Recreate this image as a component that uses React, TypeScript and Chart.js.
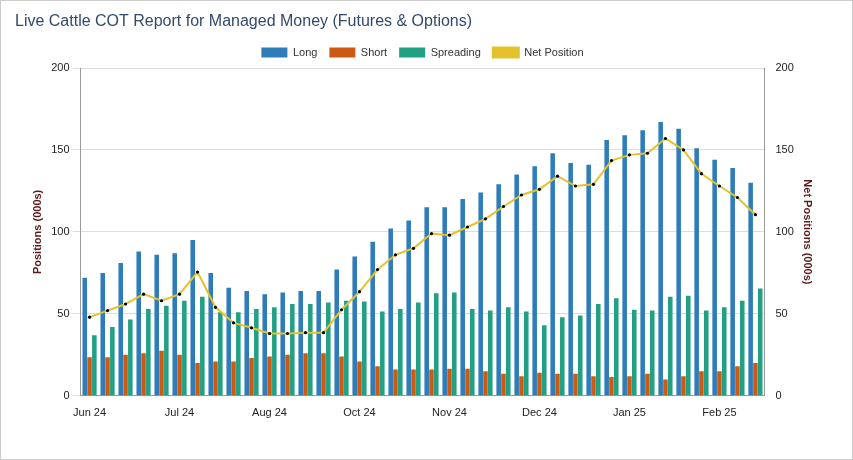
import React, { useEffect, useRef } from "react";
import { Chart, registerables } from "chart.js";
Chart.register(...registerables);

const labels = ["Jun 24","","","","","Jul 24","","","","","Aug 24","","","","","Oct 24","","","","","Nov 24","","","","","Dec 24","","","","","Jan 25","","","","","Feb 25","",""];
const longV = [72,75,81,88,86,87,95,75,66,64,62,63,64,64,77,85,94,102,107,115,115,120,124,129,135,140,148,142,141,156,159,162,167,163,151,144,139,130];
const shortV = [23.5,23.5,25,26,27.5,25,20,21,21,23,24,25,26,26,24,21,18,16,16,16,16.5,16.5,15,13.5,12,14,13.5,13.5,12,11.5,12,13.5,10,12,15,15,18,20];
const spreadV = [37,42,46.5,53,55,58,60.5,51,51,53,54,56,56,57,58,57.5,51.5,53,57,62.5,63,53,52,54,51.5,43,48,49,56,59.5,52.5,52,60.5,61,52,54,58,65.5];
const netV = [48,52,56,62,58,62,75.5,54,44.5,41.5,38,38,38.5,38.5,52.5,63.5,77,86,90,99,98,103,108,115.5,122.5,126,134,128,129,143.5,147,148,157,150,135.5,128,121,110.5];
const titleText = "Live Cattle COT Report for Managed Money (Futures & Options)";

export default function App() {
  const ref = useRef<HTMLCanvasElement>(null);
  useEffect(() => {
    document.body.style.margin = "0";
    const family = "Arial, 'Liberation Sans', sans-serif";
    const font = { family, size: 11 };
    const titlePlugin = {
      id: "lefttitle",
      afterDraw(c: any) {
        const ctx = c.ctx;
        ctx.save();
        ctx.font = `16px ${family}`;
        ctx.fillStyle = "#334a6b";
        ctx.textBaseline = "middle";
        ctx.fillText(titleText, 14, 21);
        ctx.restore();
      },
    };
    const chart = new Chart(ref.current!, {
      data: {
        labels,
        datasets: [
          { type: "line", label: "Net Position", data: netV, yAxisID: "y1", borderColor: "#e3c22d", borderWidth: 2, pointRadius: 1.6, pointBackgroundColor: "#000", pointBorderColor: "#000", pointBorderWidth: 0, tension: 0, order: 0 },
          { type: "bar", label: "Long", data: longV, backgroundColor: "#2e7db8", categoryPercentage: 0.8, barPercentage: 0.95, order: 1 },
          { type: "bar", label: "Short", data: shortV, backgroundColor: "#cc5a12", categoryPercentage: 0.8, barPercentage: 0.95, order: 1 },
          { type: "bar", label: "Spreading", data: spreadV, backgroundColor: "#22a084", categoryPercentage: 0.8, barPercentage: 0.95, order: 1 },
        ] as any,
      },
      plugins: [titlePlugin],
      options: {
        animation: false,
        responsive: false,
        layout: { padding: { left: 26, right: 34, top: 34, bottom: 36 } },
        plugins: {
          title: { display: false },
          legend: {
            labels: {
              font, color: "#333", boxWidth: 26, boxHeight: 10, padding: 12,
              generateLabels: (c: any) => {
                const items = Chart.defaults.plugins.legend.labels.generateLabels(c);
                const order = ["Long", "Short", "Spreading", "Net Position"];
                return order.map((n) => items.find((i: any) => i.text === n)!).map((i: any) => i.text === "Net Position" ? { ...i, lineWidth: 2, fillStyle: "#e3c22d" } : { ...i, lineWidth: 0 });
              },
            },
          },
          tooltip: { enabled: false },
        },
        scales: {
          x: { grid: { display: false }, border: { color: "#999" }, ticks: { font, color: "#222", autoSkip: false, maxRotation: 0 } },
          y: { position: "left", min: 0, max: 200, ticks: { stepSize: 50, font, color: "#222" }, grid: { color: "#ddd" }, border: { color: "#999" }, title: { display: true, text: "Positions (000s)", color: "#5a1a1a", font: { ...font, weight: "bold" } } },
          y1: { position: "right", min: 0, max: 200, ticks: { stepSize: 50, font, color: "#222" }, grid: { display: false }, border: { color: "#999" }, title: { display: true, text: "Net Positions (000s)", color: "#5a1a1a", font: { ...font, weight: "bold" } } },
        },
      } as any,
    });
    return () => chart.destroy();
  }, []);
  return (
    <div style={{ width: 853, height: 460, boxSizing: "border-box", border: "1px solid #ccc", background: "#fff" }}>
      <canvas ref={ref} width={851} height={458} />
    </div>
  );
}
